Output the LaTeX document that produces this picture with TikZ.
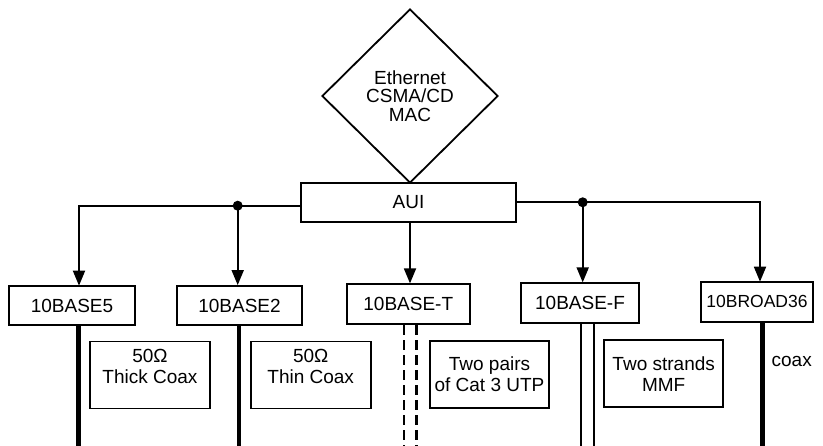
\documentclass[tikz,border=0pt]{standalone}
\usepackage{fontspec}
\setmainfont{Liberation Sans}
\usetikzlibrary{shapes.geometric,arrows.meta}
\begin{document}
\begin{tikzpicture}[x=1pt,y=-1pt,
  every node/.style={font=\fontsize{19}{21}\selectfont},
  box/.style={draw,line width=1.8pt,rectangle,inner sep=0pt,minimum height=39pt},
  lbox/.style={draw,line width=1.8pt,rectangle,inner sep=0pt,minimum width=120pt,minimum height=67pt,align=center},
  conn/.style={line width=1.8pt},
  arr/.style={line width=1.8pt,-{Triangle[length=15pt,width=12pt]}},
  dotj/.style={circle,fill,inner sep=0pt,minimum size=10pt},
  thickcab/.style={line width=5.5pt},
  medcab/.style={line width=4.5pt},
  tpcab/.style={line width=2.5pt,dash pattern=on 10pt off 5pt},
  fibcab/.style={line width=1.8pt}]
\useasboundingbox (0,0) rectangle (823,446);

% MAC diamond
\node[diamond,draw,line width=1.8pt,inner sep=0pt,minimum width=176pt,minimum height=174pt,
      align=center,font=\fontsize{19}{18.7}\selectfont] (mac) at (410,96) {Ethernet\\CSMA/CD\\MAC};

% AUI
\node[box,minimum width=215pt] (aui) at (408.5,202.5) {AUI};

% PHY boxes
\node[box,minimum width=126pt] (b5) at (72,305.5) {10BASE5};
\node[box,minimum width=125.6pt] (b2) at (239.5,305.5) {10BASE2};
\node[box,minimum width=123.3pt,minimum height=40pt] (bt) at (408.3,304.3) {10BASE-T};
\node[box,minimum width=118pt,minimum height=40pt] (bf) at (580,303.3) {10BASE-F};
\node[box,minimum width=112.6pt,minimum height=40pt,font=\fontsize{17.5}{21}\selectfont] (br) at (757,301.7) {10BROAD36};

% junctions and arrow targets
\node[dotj] (jl) at (237.7,205.7) {};
\node[dotj] (jr) at (582.7,202.3) {};
\coordinate (t5) at (79,285.7);
\coordinate (tr) at (760,281.7);

% connectors
\draw[conn] (aui.west |- jl) -- (jl.center);
\draw[arr] (jl.center) -| (t5);
\draw[arr] (jl.center) -- (jl |- b2.north);
\draw[arr] (aui.south -| 410,0) -- (bt.north -| 410,0);
\draw[conn] (aui.east |- jr) -- (jr.center);
\draw[arr] (jr.center) -| (tr);
\draw[arr] (jr.center) -- (jr |- bf.north);

% media lines
\coordinate (m5) at (78.3,446);
\coordinate (m2) at (239,446);
\coordinate (mt1) at (403.8,446);
\coordinate (mt2) at (416.7,446);
\coordinate (mf1) at (581,446);
\coordinate (mf2) at (594,446);
\coordinate (mr) at (762.7,446);
\draw[thickcab] (b5.south -| m5) -- (m5);
\draw[medcab] (b2.south -| m2) -- (m2);
\draw[tpcab] (bt.south -| mt1) -- (mt1);
\draw[tpcab] (bt.south -| mt2) -- (mt2);
\draw[fibcab] (bf.south -| mf1) -- (mf1);
\draw[fibcab] (bf.south -| mf2) -- (mf2);
\draw[medcab] (br.south -| mr) -- (mr);

% media labels
\node[lbox] (l5) at (150,375) {};
\node[align=center] (l5t) at (150,366.5) {50Ω\\Thick Coax};
\node[lbox] (l2) at (310.7,375) {};
\node[align=center] (l2t) at (310.7,366.5) {50Ω\\Thin Coax};
\node[lbox,minimum width=119pt] (lt) at (489.5,374.6) {Two pairs\\of Cat 3 UTP};
\node[lbox,minimum width=119.3pt] (lf) at (663.7,373.8) {Two strands\\MMF};
\node (lr) at (791.7,361.7) {coax};
\end{tikzpicture}
\end{document}
